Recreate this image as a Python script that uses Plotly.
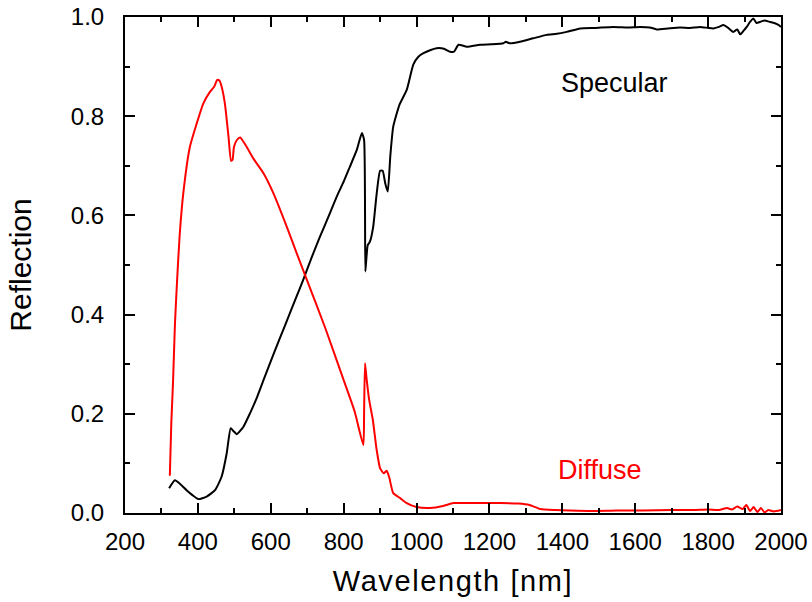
import plotly.graph_objects as go

# Specular reflection (black)
spec_nm = [321, 337, 352, 369, 385, 401, 424, 447, 465, 479, 490, 498, 507, 525, 543, 561, 580,
           610, 640, 670, 689, 712, 735, 758, 781, 800, 817, 836, 850, 856, 859.5, 862, 866, 872, 881,
           890, 900, 907, 914, 921, 928, 936, 953, 973, 991, 1005, 1019, 1037, 1055, 1075, 1092, 1103,
           1115, 1138, 1174, 1205, 1238, 1245, 1255, 1284, 1320, 1357, 1385, 1412, 1449, 1490, 1540,
           1580, 1613, 1640, 1659, 1690, 1723, 1750, 1778, 1800, 1814, 1830, 1842, 1855, 1869, 1880,
           1888, 1897, 1906, 1915, 1924, 1933, 1942, 1955, 1970, 1985, 1993, 2000]
spec_r = [0.050, 0.066, 0.058, 0.046, 0.036, 0.028, 0.033, 0.046, 0.073, 0.120, 0.171, 0.165, 0.159,
          0.174, 0.201, 0.231, 0.268, 0.325, 0.380, 0.435, 0.470, 0.515, 0.557, 0.597, 0.638, 0.668,
          0.698, 0.732, 0.766, 0.752, 0.487, 0.510, 0.540, 0.547, 0.577, 0.640, 0.690, 0.690, 0.665,
          0.648, 0.720, 0.779, 0.823, 0.853, 0.904, 0.920, 0.927, 0.933, 0.937, 0.936, 0.930, 0.930,
          0.944, 0.940, 0.944, 0.945, 0.947, 0.950, 0.947, 0.950, 0.957, 0.964, 0.966, 0.970, 0.977,
          0.978, 0.980, 0.979, 0.980, 0.979, 0.975, 0.977, 0.979, 0.978, 0.980, 0.978, 0.977, 0.980,
          0.984, 0.978, 0.970, 0.975, 0.965, 0.972, 0.980, 0.990, 0.997, 0.988, 0.990, 0.993, 0.990,
          0.987, 0.984, 0.980]

# Diffuse reflection (red)
diff_nm = [323, 327, 332, 337, 343, 350, 360, 378, 397, 415, 433, 445, 453, 459, 465, 474, 484, 491,
           495, 499, 507, 516, 534, 552, 580, 607, 644, 671, 699, 750, 800, 830, 854, 856, 858.6,
           863, 870, 880, 890, 900, 910, 918, 925, 936, 955, 973, 1000, 1037, 1073, 1101, 1140, 1183,
           1230, 1280, 1310, 1340, 1380, 1420, 1480, 1550, 1620, 1700, 1760, 1800, 1830, 1852, 1865,
           1880, 1895, 1905, 1915, 1925, 1935, 1945, 1955, 1965, 1980, 2000]
diff_r = [0.075, 0.180, 0.268, 0.380, 0.470, 0.560, 0.645, 0.738, 0.786, 0.826, 0.849, 0.860, 0.873,
          0.872, 0.860, 0.826, 0.759, 0.710, 0.712, 0.738, 0.752, 0.757, 0.738, 0.715, 0.685, 0.645,
          0.577, 0.524, 0.470, 0.372, 0.268, 0.205, 0.137, 0.200, 0.302, 0.270, 0.228, 0.188, 0.130,
          0.090, 0.080, 0.085, 0.072, 0.040, 0.030, 0.020, 0.012, 0.010, 0.014, 0.020, 0.020, 0.020,
          0.020, 0.019, 0.016, 0.008, 0.006, 0.005, 0.004, 0.005, 0.005, 0.006, 0.006, 0.007, 0.006,
          0.010, 0.007, 0.013, 0.008, 0.016, 0.004, 0.012, 0.002, 0.010, 0.001, 0.006, 0.003, 0.006]

x_ticks = [200, 400, 600, 800, 1000, 1200, 1400, 1600, 1800, 2000]
y_ticks = [0.0, 0.2, 0.4, 0.6, 0.8, 1.0]

FONT = "Liberation Sans, Arial, Helvetica, sans-serif"

fig = go.Figure()
fig.add_trace(go.Scatter(x=spec_nm, y=spec_r, mode="lines", name="Specular",
                         line=dict(color="black", width=2, shape="spline", smoothing=0.5)))
fig.add_trace(go.Scatter(x=diff_nm, y=diff_r, mode="lines", name="Diffuse",
                         line=dict(color="#ff0000", width=2, shape="spline", smoothing=0.5)))

axis_common = dict(showgrid=False, zeroline=False, showline=True, linecolor="black",
                   linewidth=2, mirror="ticks", ticks="inside", tickcolor="black",
                   tickwidth=2, ticklen=10, automargin=False,
                   tickfont=dict(family=FONT, size=24, color="black"))

fig.update_xaxes(range=[200, 2000], tickvals=x_ticks,
                 ticktext=[str(v) for v in x_ticks],
                 minor=dict(ticks="inside", ticklen=5, dtick=100, tickwidth=2, tickcolor="black"),
                 title=dict(text='<span style="letter-spacing:1.6px">Wavelength [nm]</span>',
                            font=dict(family=FONT, size=29, color="black"), standoff=17),
                 ticklabelstandoff=6,
                 **axis_common)
fig.update_yaxes(range=[0, 1.0], tickvals=y_ticks,
                 ticktext=["%.1f" % v for v in y_ticks],
                 minor=dict(ticks="inside", ticklen=5, dtick=0.1, tickwidth=2, tickcolor="black"),
                 title=dict(text="Reflection", font=dict(family=FONT, size=30, color="black"),
                            standoff=30),
                 ticklabelstandoff=14,
                 **axis_common)

fig.add_annotation(x=1542, y=0.867, text="Specular", showarrow=False,
                   font=dict(family=FONT, size=27, color="black"))
fig.add_annotation(x=1503, y=0.087, text="Diffuse", showarrow=False,
                   font=dict(family=FONT, size=27, color="#ff0000"))

fig.update_layout(width=812, height=602, showlegend=False,
                  plot_bgcolor="white", paper_bgcolor="white",
                  margin=dict(l=125, r=31, t=17, b=89))

fig.write_html("out.html", config={"displayModeBar": False},
               post_script="document.body.style.margin='0';document.body.style.overflow='hidden';")
